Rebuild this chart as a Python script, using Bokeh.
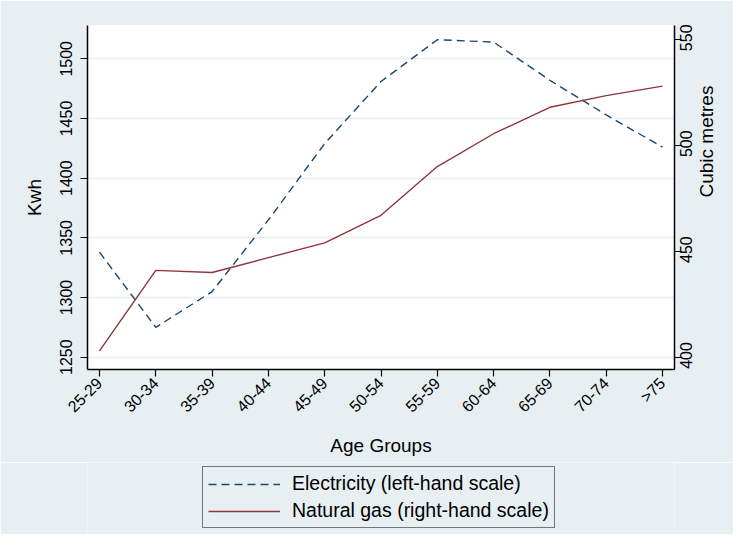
import math

from bokeh.plotting import figure
from bokeh.layouts import column
from bokeh.models import (ColumnDataSource, Range1d, LinearAxis, FixedTicker,
                          Legend, LegendItem)
from bokeh.embed import file_html
from bokeh.resources import INLINE

# data
age_groups = ["25-29", "30-34", "35-39", "40-44", "45-49", "50-54",
              "55-59", "60-64", "65-69", "70-74", ">75"]
electricity_kwh = [1338, 1275, 1305, 1365, 1429, 1481, 1516, 1514, 1482, 1453, 1426]
gas_m3 = [403, 441, 440, 447, 454, 467, 490, 505.5, 518, 523.5, 528]
kwh_ticks = [1250, 1300, 1350, 1400, 1450, 1500]
m3_ticks = [400, 450, 500, 550]
series_names = ["Electricity (left-hand scale)", "Natural gas (right-hand scale)"]

BG = "#e8eff2"
ELEC = "#1a476f"
GAS = "#90353b"
FONT = "Liberation Sans"
W = 733

gas_lo, gas_hi = 394.2, 556.6
lab_shift = 5.5    # moves the upward-reading right labels so they sit centred on the ticks

x_idx = list(range(len(age_groups)))
source = ColumnDataSource(dict(x=x_idx, elec=electricity_kwh, gas=gas_m3))

p = figure(width=W, height=462, output_backend="svg", toolbar_location=None,
           tools="", x_range=Range1d(-0.213, len(age_groups) - 1 + 0.213),
           y_range=Range1d(1239.7, 1527.9),
           min_border_left=87, min_border_right=59,
           min_border_top=25, min_border_bottom=93)
p.background_fill_color = "white"
p.border_fill_color = BG
p.outline_line_color = None

p.extra_y_ranges = {"gas": Range1d(gas_lo, gas_hi),
                    "gas_lab": Range1d(gas_lo + lab_shift, gas_hi + lab_shift)}

# left axis (electricity)
p.yaxis.ticker = FixedTicker(ticks=kwh_ticks)
p.yaxis.axis_label = "Kwh"
p.yaxis.major_label_orientation = "vertical"

# right axis: line + ticks
r_ticks = LinearAxis(y_range_name="gas", ticker=FixedTicker(ticks=m3_ticks),
                     major_label_overrides={t: "" for t in m3_ticks})
p.add_layout(r_ticks, "right")

# right axis: tick labels (reading upwards)
r_labels = LinearAxis(y_range_name="gas_lab", ticker=FixedTicker(ticks=m3_ticks))
p.add_layout(r_labels, "right")

# right axis: title, anchored so that it is centred on the frame
r_title = LinearAxis(y_range_name="gas", ticker=FixedTicker(ticks=[420]),
                     major_label_overrides={420: ""},
                     bounds=(gas_lo, 447.1), axis_label="Cubic metres")
p.add_layout(r_title, "right")

# x axis
p.xaxis.ticker = FixedTicker(ticks=x_idx)
p.xaxis.major_label_overrides = {i: g for i, g in zip(x_idx, age_groups)}
p.xaxis.major_label_orientation = math.pi / 4
p.xaxis.axis_label = "Age Groups"

for ax in p.axis:
    ax.minor_tick_line_color = None
    ax.axis_line_width = 1.5
    ax.major_tick_line_width = 1.2
    ax.major_tick_in = 0
    ax.major_label_text_font = FONT
    ax.major_label_text_font_size = "16px"
    ax.major_label_text_color = "black"
    ax.axis_label_text_font = FONT
    ax.axis_label_text_font_style = "normal"
    ax.axis_label_text_font_size = "19px"
    ax.axis_label_text_color = "black"

for ax in [p.xaxis[0], p.yaxis[0], r_ticks]:
    ax.axis_line_color = "black"
    ax.major_tick_line_color = "black"
    ax.major_tick_out = 7

for ax in [r_labels, r_title]:
    ax.axis_line_color = None
    ax.major_tick_line_color = None
    ax.major_tick_out = 0

# the tick-only and title-only axes take as little room as possible
for ax in [r_ticks, r_title]:
    ax.major_label_text_font_size = "1px"
    ax.major_label_standoff = 0

p.yaxis[0].major_label_standoff = 8
p.yaxis[0].axis_label_standoff = 13
r_labels.major_label_orientation = math.pi / 2
r_labels.major_label_standoff = 5
r_title.axis_label_orientation = math.pi / 2
r_title.axis_label_standoff = 5
p.xaxis.major_label_standoff = 4
p.xaxis.axis_label_standoff = 11

p.xgrid.grid_line_color = None
p.ygrid.grid_line_color = BG
p.ygrid.grid_line_width = 1.5

p.line("x", "elec", source=source, line_color=ELEC, line_width=1.4, line_dash="8 5")
p.line("x", "gas", source=source, y_range_name="gas", line_color=GAS, line_width=1.4)

# legend strip underneath the chart (its own copies of the lines are kept out of view)
leg = figure(width=W, height=72, output_backend="svg", toolbar_location=None,
             tools="", x_axis_type=None, y_axis_type=None,
             x_range=Range1d(-20, -19), y_range=Range1d(0, 1), min_border=0)
leg.outline_line_color = None
leg.background_fill_color = BG
leg.border_fill_color = BG
k_elec = leg.line("x", "elec", source=source, line_color=ELEC, line_width=1.4, line_dash="8 5")
k_gas = leg.line("x", "gas", source=source, line_color=GAS, line_width=1.4)

legend = Legend(items=[LegendItem(label=series_names[0], renderers=[k_elec]),
                       LegendItem(label=series_names[1], renderers=[k_gas])],
                location=(115, 6))
legend.background_fill_color = BG
legend.background_fill_alpha = 1
legend.border_line_color = "black"
legend.border_line_width = 1.2
legend.padding = 5
legend.spacing = 4
legend.margin = 0
legend.glyph_width = 72
legend.glyph_height = 20
legend.label_height = 20
legend.label_standoff = 12
legend.label_text_font = FONT
legend.label_text_font_size = "19.5px"
legend.label_text_color = "black"
leg.add_layout(legend, "center")

layout = column(p, leg, spacing=0)
open("out.html", "w").write(file_html(layout, INLINE))
